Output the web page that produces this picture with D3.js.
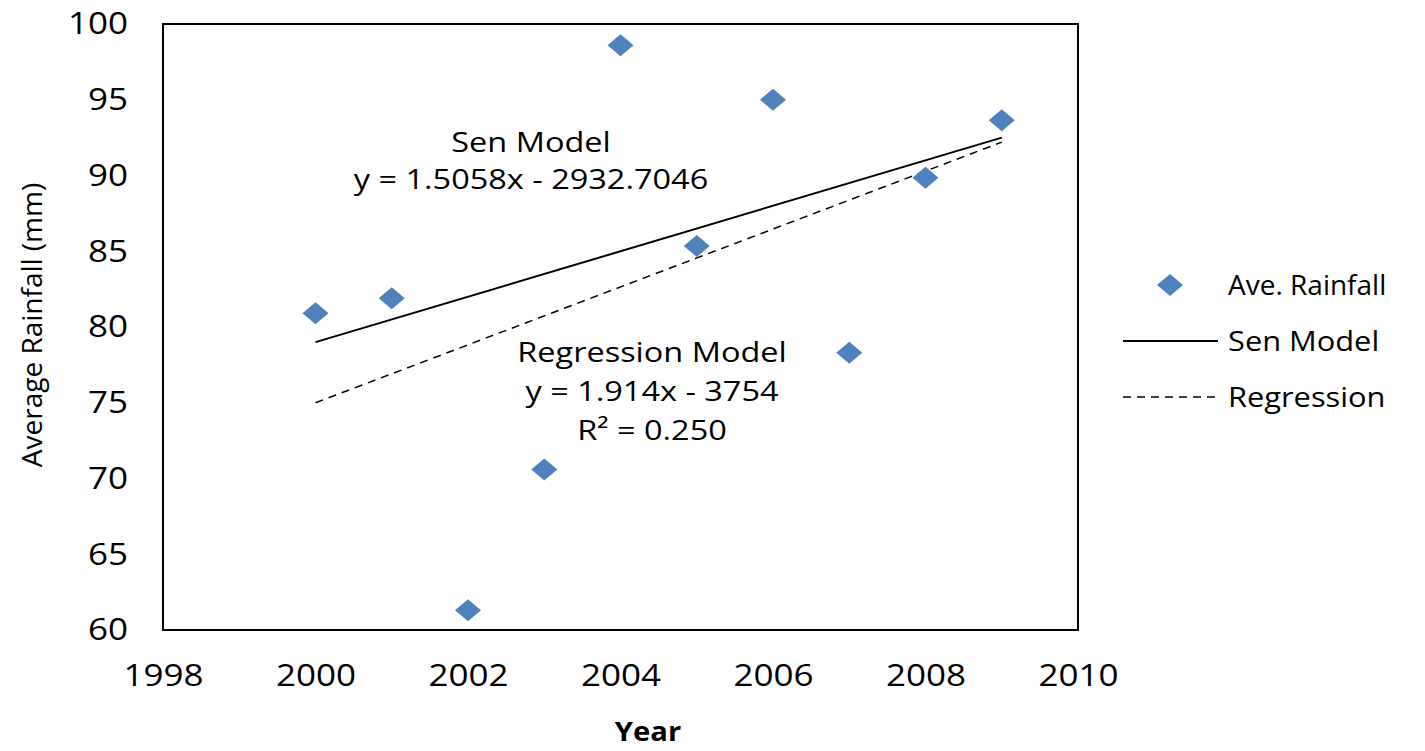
<!DOCTYPE html>
<html>
<head>
<meta charset="utf-8">
<script src="https://cdn.jsdelivr.net/npm/d3@7"></script>
<style>
  body { margin: 0; background: #fff; }
  text { font-family: "Open Sans", sans-serif; fill: #000; }
</style>
</head>
<body>
<div id="chart"></div>
<script>
// Data
const years = [2000, 2001, 2002, 2003, 2004, 2005, 2006, 2007, 2008, 2009];
const rainfall = [80.9, 81.9, 61.3, 70.6, 98.6, 85.35, 95.0, 78.3, 89.85, 93.65];

// Trend lines (start / end years and values)
const senYears = [2000, 2009];
const senValues = [79.0, 92.5];
const regYears = [2000, 2009];
const regValues = [75.0, 92.2];

const xTicks = [1998, 2000, 2002, 2004, 2006, 2008, 2010];
const yTicks = [60, 65, 70, 75, 80, 85, 90, 95, 100];

const senLabel = ["Sen Model", "y = 1.5058x - 2932.7046"];
const regLabel = ["Regression Model", "y = 1.914x - 3754", "R\u00B2 = 0.250"];
const legendItems = ["Ave. Rainfall", "Sen Model", "Regression"];

const config = {
    width: 1425,
    height: 751,
    margin: { left: 163, top: 24, right: 347, bottom: 121 }
};

// the source font is a bit wider than Open Sans
const stretch = 1.13;

const svg = d3.select("#chart").append("svg")
    .attr("width", config.width)
    .attr("height", config.height);

const innerW = config.width - config.margin.left - config.margin.right;
const innerH = config.height - config.margin.top - config.margin.bottom;

const xScale = d3.scaleLinear().domain([1998, 2010]).range([0, innerW]);
const yScale = d3.scaleLinear().domain([60, 100]).range([innerH, 0]);

const chart = svg.append("g")
    .attr("transform", `translate(${config.margin.left},${config.margin.top})`);

// Axes: labels only, no ticks or domain path
const xAxis = chart.append("g")
    .attr("transform", `translate(0,${innerH})`)
    .call(d3.axisBottom(xScale).tickValues(xTicks).tickFormat(d3.format("d")).tickSize(0).tickPadding(34));
xAxis.select(".domain").remove();
xAxis.selectAll("text")
    .style("font-size", "31px")
    .style("font-family", "Open Sans")
    .attr("transform", `scale(${stretch},1)`);

const yAxis = chart.append("g")
    .call(d3.axisLeft(yScale).tickValues(yTicks).tickFormat(d3.format("d")).tickSize(0).tickPadding(35));
yAxis.select(".domain").remove();
yAxis.selectAll("text")
    .style("font-size", "31px")
    .style("font-family", "Open Sans")
    .attr("x", 0)
    .attr("transform", `translate(-35,0) scale(${stretch},1)`);

// Plot frame
chart.append("rect")
    .attr("x", 0)
    .attr("y", 0)
    .attr("width", innerW)
    .attr("height", innerH)
    .attr("fill", "none")
    .attr("stroke", "#000")
    .attr("stroke-width", 2);

const line = d3.line()
    .x(d => xScale(d[0]))
    .y(d => yScale(d[1]));

chart.append("path")
    .datum(d3.zip(regYears, regValues))
    .attr("d", line)
    .attr("fill", "none")
    .attr("stroke", "#000")
    .attr("stroke-width", 1.5)
    .attr("stroke-dasharray", "8,6");

chart.append("path")
    .datum(d3.zip(senYears, senValues))
    .attr("d", line)
    .attr("fill", "none")
    .attr("stroke", "#000")
    .attr("stroke-width", 2);

// Diamonds
const diamond = "M0,-11L13,0L0,11L-13,0Z";
chart.selectAll(".pt")
    .data(d3.zip(years, rainfall))
    .join("path")
    .attr("class", "pt")
    .attr("d", diamond)
    .attr("transform", d => `translate(${xScale(d[0])},${yScale(d[1])})`)
    .attr("fill", "#4F81BD");

// Annotations
function annotate(lines, cx, y0, gap, sx) {
    svg.append("text")
        .attr("transform", `translate(${cx},${y0}) scale(${sx},1)`)
        .attr("text-anchor", "middle")
        .style("font-size", "28px")
        .selectAll("tspan")
        .data(lines)
        .join("tspan")
        .attr("x", 0)
        .attr("y", (d, i) => i * gap)
        .text(d => d);
}
annotate(senLabel, 531, 152, 37, 1.16);
annotate(regLabel, 652, 362, 39, 1.16);

// Axis titles
svg.append("text")
    .attr("transform", "translate(42,325) rotate(-90)")
    .attr("text-anchor", "middle")
    .style("font-size", "28px")
    .text("Average Rainfall (mm)");

svg.append("text")
    .attr("transform", "translate(648,741) scale(1.08,1)")
    .attr("text-anchor", "middle")
    .style("font-size", "27px")
    .style("font-weight", "bold")
    .text("Year");

// Legend
const legend = svg.append("g").attr("transform", "translate(1123,285)");
legendItems.forEach((name, i) => {
    const g = legend.append("g").attr("transform", `translate(0,${i * 56})`);
    if (i === 0) {
        g.append("path").attr("d", diamond).attr("transform", "translate(47,0)").attr("fill", "#4F81BD");
    } else {
        g.append("line")
            .attr("x1", 0).attr("x2", 95)
            .attr("y1", 0).attr("y2", 0)
            .attr("stroke", "#000")
            .attr("stroke-width", i === 1 ? 2 : 1.5)
            .attr("stroke-dasharray", i === 2 ? "8,6" : null);
    }
    g.append("text")
        .attr("transform", `translate(105,0) scale(${i === 0 ? 1 : 1.1},1)`)
        .attr("dy", "0.35em")
        .style("font-size", "28px")
        .text(name);
});
</script>
</body>
</html>
